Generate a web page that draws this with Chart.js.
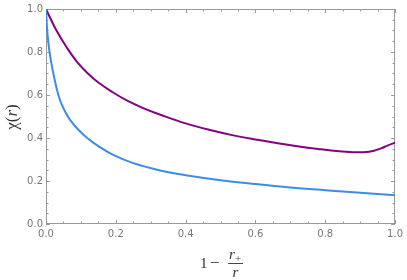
<!DOCTYPE html>
<html>
<head>
<meta charset="utf-8">
<script src="https://cdn.jsdelivr.net/npm/chart.js@4"></script>
<style>
  html, body { margin: 0; padding: 0; background: #fff; }
  #wrap { width: 407px; height: 280px; }
</style>
</head>
<body>
<div id="wrap"><canvas id="chiChart" width="407" height="280"></canvas></div>
<script>
// values
const blueX = [0, 0.003, 0.007, 0.012, 0.018, 0.025, 0.033, 0.042, 0.055, 0.07, 0.09, 0.118, 0.15, 0.194, 0.25, 0.33, 0.4, 0.5, 0.6, 0.7, 0.8, 0.9, 1.0];
const blueY = [1.0, 0.91, 0.84, 0.78, 0.725, 0.67, 0.615, 0.568, 0.522, 0.482, 0.443, 0.400, 0.362, 0.320, 0.283, 0.248, 0.227, 0.204, 0.186, 0.170, 0.157, 0.145, 0.134];
const purpleX = [0, 0.01, 0.03, 0.06, 0.09, 0.12, 0.15, 0.19, 0.23, 0.28, 0.33, 0.4, 0.47, 0.54, 0.6, 0.66, 0.72, 0.78, 0.84, 0.88, 0.91, 0.94, 0.96, 0.98, 1.0];
const purpleY = [1.0, 0.965, 0.9, 0.82, 0.752, 0.70, 0.658, 0.614, 0.576, 0.538, 0.507, 0.468, 0.437, 0.411, 0.393, 0.377, 0.362, 0.349, 0.338, 0.334, 0.334, 0.341, 0.352, 0.366, 0.378];
const xTicks = [0, 0.2, 0.4, 0.6, 0.8, 1.0];
const yTicks = [0, 0.2, 0.4, 0.6, 0.8, 1.0];

const toPoints = (xs, ys) => xs.map((x, i) => ({ x: x, y: ys[i] }));
const gray = '#9a9a9a';
const serif = '"Liberation Serif"';

// Mathematica-like frame with inward ticks on all four sides
const framePlugin = {
  id: 'frame',
  beforeDatasetsDraw(chart) {
    const { ctx, chartArea: a, scales } = chart;
    ctx.save();
    ctx.strokeStyle = gray;
    ctx.lineWidth = 1;
    ctx.strokeRect(a.left + 0.5, a.top + 0.5, a.right - a.left - 1, a.bottom - a.top - 1);
    ctx.beginPath();
    for (let i = 0; i <= 20; i++) {
      const v = i * 0.05;
      const len = i % 4 === 0 ? 4 : 2.5;
      const px = Math.round(scales.x.getPixelForValue(v)) + 0.5;
      ctx.moveTo(px, a.bottom); ctx.lineTo(px, a.bottom - len);
      ctx.moveTo(px, a.top); ctx.lineTo(px, a.top + len);
      const py = Math.round(scales.y.getPixelForValue(v)) + 0.5;
      ctx.moveTo(a.left, py); ctx.lineTo(a.left + len, py);
      ctx.moveTo(a.right, py); ctx.lineTo(a.right - len, py);
    }
    ctx.stroke();
    ctx.restore();
  },
  afterDraw(chart) {
    const { ctx } = chart;
    ctx.save();
    ctx.fillStyle = '#333';
    ctx.textBaseline = 'alphabetic';
    // y label: chi(r)
    ctx.translate(17, 117);
    ctx.rotate(-Math.PI / 2);
    const parts = [['χ(', '17px ' + serif], ['r', 'italic 17px ' + serif], [')', '17px ' + serif]];
    let w = 0;
    parts.forEach(p => { ctx.font = p[1]; w += ctx.measureText(p[0]).width; });
    let x = -w / 2;
    parts.forEach(p => { ctx.font = p[1]; ctx.fillText(p[0], x, 0); x += ctx.measureText(p[0]).width; });
    ctx.restore();

    // x label: 1 - r+/r
    ctx.save();
    ctx.fillStyle = '#333';
    ctx.textAlign = 'left';
    ctx.font = '15px ' + serif;
    ctx.fillText('1', 200, 268);
    ctx.font = '17px ' + serif;
    ctx.fillText('\u2212', 210, 268);
    ctx.font = 'italic 15px ' + serif;
    ctx.fillText('r', 229, 259);
    ctx.font = '11px ' + serif;
    ctx.fillText('+', 235, 262);
    ctx.fillRect(228, 263, 15, 0.9);
    ctx.font = 'italic 15px ' + serif;
    ctx.fillText('r', 232.5, 277);
    ctx.restore();
  }
};

new Chart(document.getElementById('chiChart'), {
  type: 'scatter',
  data: {
    datasets: [{
      data: toPoints(blueX, blueY),
      showLine: true,
      borderColor: '#3d8de6',
      borderWidth: 2,
      pointRadius: 0,
      tension: 0.4
    }, {
      data: toPoints(purpleX, purpleY),
      showLine: true,
      borderColor: '#82027f',
      borderWidth: 2,
      pointRadius: 0,
      tension: 0.4
    }]
  },
  options: {
    responsive: false,
    animation: false,
    layout: { padding: { top: 6, right: 10, left: 0, bottom: 0 } },
    plugins: { legend: { display: false }, tooltip: { enabled: false } },
    scales: {
      x: {
        type: 'linear', min: 0, max: 1,
        afterBuildTicks: s => { s.ticks = xTicks.map(v => ({ value: v })); },
        afterFit: s => { s.height = 56; },
        grid: { display: false, drawTicks: false },
        border: { display: false },
        ticks: { color: '#777', font: { family: 'DejaVu Sans', size: 10 }, padding: 4, callback: v => v.toFixed(1), maxRotation: 0 }
      },
      y: {
        type: 'linear', min: 0, max: 1,
        afterBuildTicks: s => { s.ticks = yTicks.map(v => ({ value: v })); },
        afterFit: s => { s.width = 46; },
        grid: { display: false, drawTicks: false },
        border: { display: false },
        ticks: { color: '#777', font: { family: 'DejaVu Sans', size: 10 }, padding: 3, callback: v => v.toFixed(1) }
      }
    }
  },
  plugins: [framePlugin]
});
</script>
</body>
</html>
